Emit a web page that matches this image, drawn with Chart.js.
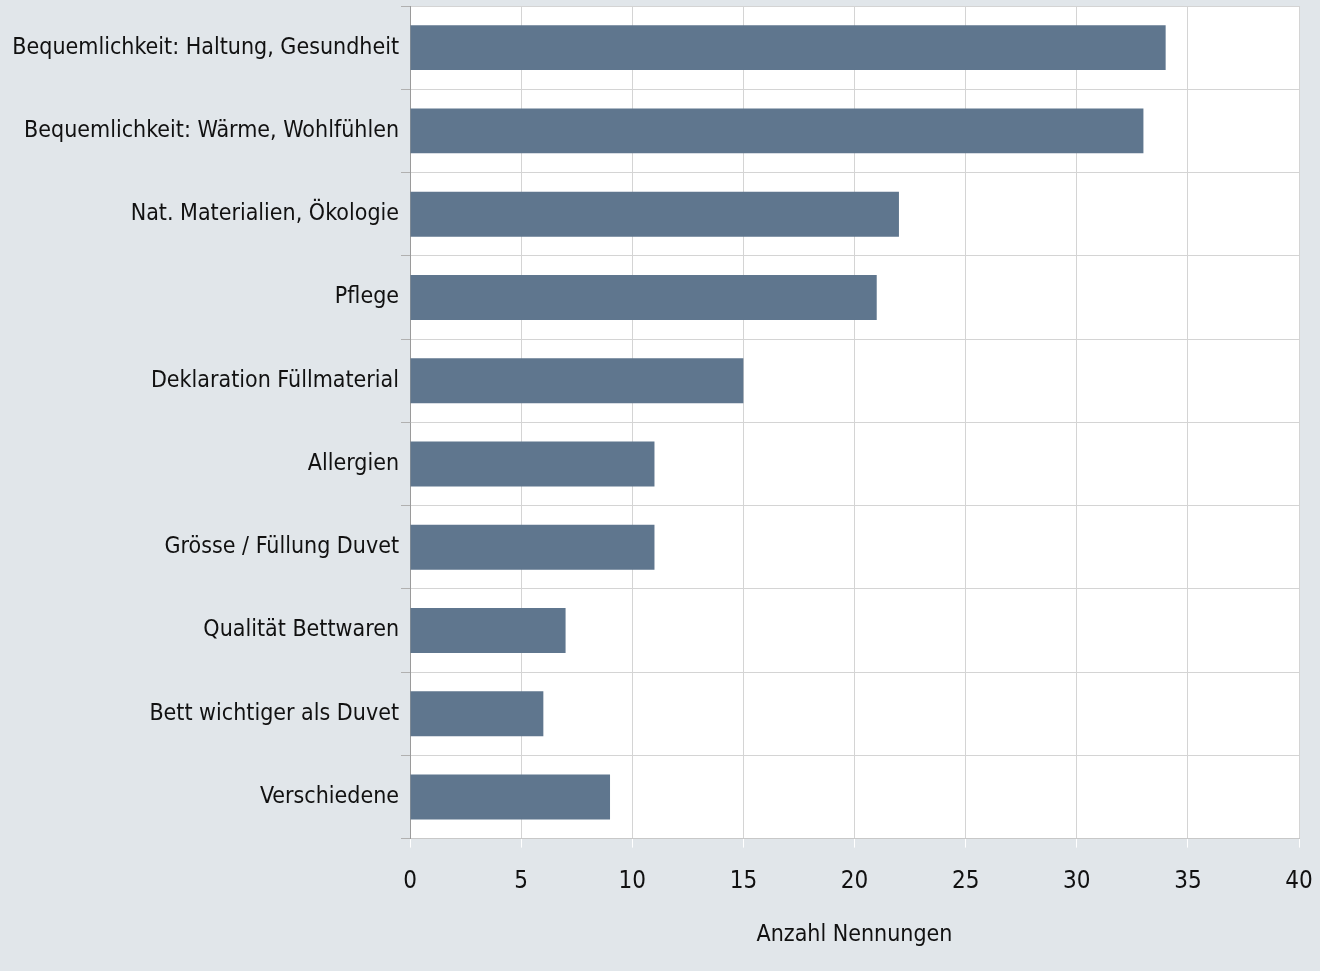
<!DOCTYPE html>
<html>
<head>
<meta charset="utf-8">
<script src="https://cdn.jsdelivr.net/npm/chart.js@4"></script>
<style>
  html, body { margin: 0; padding: 0; background: #e1e6ea; }
  #wrap { width: 1320px; height: 971px; }
</style>
</head>
<body>
<div id="wrap"><canvas id="chart" width="1320" height="971"></canvas></div>
<script>
// categories, top to bottom
const categories = [
  'Bequemlichkeit: Haltung, Gesundheit',
  'Bequemlichkeit: Wärme, Wohlfühlen',
  'Nat. Materialien, Ökologie',
  'Pflege',
  'Deklaration Füllmaterial',
  'Allergien',
  'Grösse / Füllung Duvet',
  'Qualität Bettwaren',
  'Bett wichtiger als Duvet',
  'Verschiedene'
];
const nennungen = [34, 33, 22, 21, 15, 11, 11, 7, 6, 9];
const xTicks = [0, 5, 10, 15, 20, 25, 30, 35, 40];
const xTitle = 'Anzahl Nennungen';

const FONT = "'Liberation Sans Narrow', 'Arial Narrow', 'DejaVu Sans Condensed', sans-serif";

// white plot area behind the grid
const plotBg = {
  id: 'plotBg',
  beforeDraw(chart) {
    const { ctx, chartArea: a } = chart;
    ctx.save();
    ctx.fillStyle = '#ffffff';
    ctx.fillRect(a.left, a.top, a.right - a.left, a.bottom - a.top);
    ctx.restore();
  }
};

new Chart(document.getElementById('chart'), {
  type: 'bar',
  data: {
    labels: categories,
    datasets: [{
      data: nennungen,
      backgroundColor: '#5f768e',
      borderWidth: 0,
      barPercentage: 0.54,
      categoryPercentage: 1
    }]
  },
  options: {
    indexAxis: 'y',
    responsive: false,
    animation: false,
    layout: { padding: { top: 6, right: 21, bottom: 18, left: 0 } },
    plugins: {
      legend: { display: false },
      tooltip: { enabled: false }
    },
    scales: {
      x: {
        min: 0,
        max: 40,
        afterBuildTicks: axis => { axis.ticks = xTicks.map(v => ({ value: v })); },
        afterFit: axis => { axis.paddingLeft = 0; axis.paddingRight = 0; },
        grid: { color: '#d4d4d4', tickColor: '#ffffff', tickLength: 9, lineWidth: 1 },
        border: { color: '#c8c8c8' },
        ticks: { color: '#111', font: { family: FONT, size: 24 }, padding: 20 },
        title: { display: true, text: xTitle, color: '#111', font: { family: FONT, size: 23 }, padding: { top: 5 } }
      },
      y: {
        afterFit: axis => { axis.width = 410; axis.paddingTop = 0; axis.paddingBottom = 0; },
        grid: { color: '#d4d4d4', tickColor: '#b0b0b0', tickLength: 9, offset: true },
        border: { color: '#9a9a9a' },
        ticks: { color: '#111', font: { family: FONT, size: 23 }, padding: 2 }
      }
    }
  },
  plugins: [plotBg]
});
</script>
</body>
</html>
